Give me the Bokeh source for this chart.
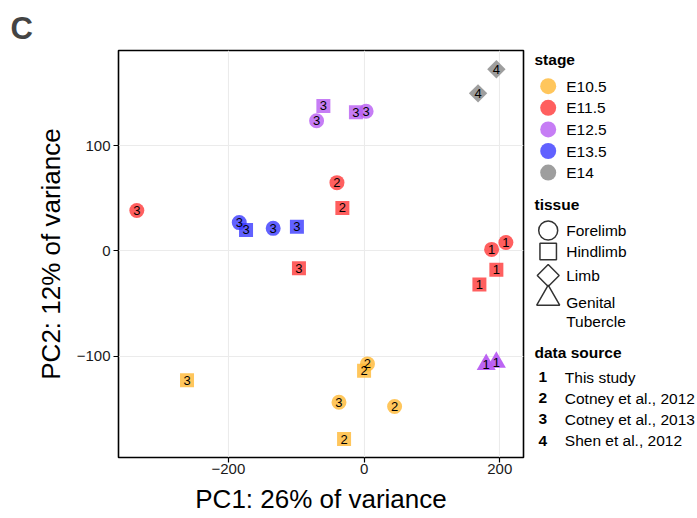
import numpy as np
from bokeh.plotting import figure
from bokeh.models import ColumnDataSource, Range1d, FixedTicker
from bokeh.layouts import row
from bokeh.embed import file_html
from bokeh.resources import INLINE
from bokeh.core.properties import value

# ---------------- data ----------------
stage = ["E14", "E14", "E12.5", "E12.5", "E12.5", "E12.5", "E11.5", "E11.5", "E11.5",
         "E13.5", "E13.5", "E13.5", "E13.5", "E11.5", "E11.5", "E11.5", "E11.5", "E11.5",
         "E12.5", "E12.5", "E10.5", "E10.5", "E10.5", "E10.5", "E10.5", "E10.5"]
tissue = ["Limb", "Limb", "Hindlimb", "Forelimb", "Hindlimb", "Forelimb", "Forelimb", "Hindlimb", "Forelimb",
          "Forelimb", "Hindlimb", "Forelimb", "Hindlimb", "Forelimb", "Forelimb", "Hindlimb", "Hindlimb", "Hindlimb",
          "Genital Tubercle", "Genital Tubercle", "Forelimb", "Hindlimb", "Hindlimb", "Forelimb", "Forelimb", "Hindlimb"]
data_source = ["4", "4", "3", "3", "3", "3", "2", "2", "3",
               "3", "3", "3", "3", "1", "1", "3", "1", "1",
               "1", "1", "2", "2", "3", "3", "2", "2"]
pc1 = [195, 168, -60, -70, -12, 3, -40, -32, -335,
       -184, -174, -134, -99, 188, 209, -96, 195, 170,
       180, 195, 5, 0, -261, -37, 45, -29.5]
pc2 = [173, 150, 138, 124, 132, 133, 65, 41, 38.5,
       27, 20, 21.5, 23, 1.5, 8, -16.5, -18, -32,
       -108, -106, -107.5, -114, -123, -144, -148, -179]

stage_levels = ["E10.5", "E11.5", "E12.5", "E13.5", "E14"]
tissue_levels = ["Forelimb", "Hindlimb", "Limb", "Genital Tubercle"]
source_levels = ["1", "2", "3", "4"]
source_names = ["This study", "Cotney et al., 2012", "Cotney et al., 2013", "Shen et al., 2012"]
x_ticks = [-200, 0, 200]
y_ticks = [-100, 0, 100]
x_tick_labels = ["\u2212200", "0", "200"]
y_tick_labels = ["\u2212100", "0", "100"]
x_title = "PC1: 26% of variance"
y_title = "PC2: 12% of variance"
panel_title = "C"

# ---------------- styles ----------------
FONT = "Liberation Sans"
stage_color = {"E10.5": "#FFB833", "E11.5": "#FF3737", "E12.5": "#B85CF2",
               "E13.5": "#3939FF", "E14": "#868686"}
tissue_marker = {"Forelimb": "circle", "Hindlimb": "square", "Limb": "square",
                 "Genital Tubercle": "triangle"}
tissue_angle = {"Forelimb": 0.0, "Hindlimb": 0.0, "Limb": np.pi / 4, "Genital Tubercle": 0.0}
tissue_size = {"Forelimb": 15, "Hindlimb": 14, "Limb": 13, "Genital Tubercle": 19}
tissue_alpha = {"Forelimb": 0.8, "Hindlimb": 0.8, "Limb": 0.8, "Genital Tubercle": 0.95}
ALPHA = 0.8

src = ColumnDataSource(dict(
    x=pc1, y=pc2, label=data_source,
    color=[stage_color[s] for s in stage],
    marker=[tissue_marker[t] for t in tissue],
    angle=[tissue_angle[t] for t in tissue],
    size=[tissue_size[t] for t in tissue],
    alpha=[tissue_alpha[t] for t in tissue],
))

H = 518
FRAME_TOP, FRAME_BOTTOM, FRAME_LEFT = 50, 457, 118

p = figure(width=525, height=H,
           x_range=Range1d(-362, 235), y_range=Range1d(-196.6, 190.8),
           output_backend="svg", toolbar_location=None,
           min_border_left=FRAME_LEFT, min_border_right=2, min_border_top=FRAME_TOP,
           min_border_bottom=H - FRAME_BOTTOM)
p.background_fill_color = "white"
p.border_fill_color = "white"
p.outline_line_color = "black"
p.outline_line_width = 1.6

# panel letter as the figure title, shifted left to the canvas edge
p.title.text = panel_title
p.title.text_font = FONT
p.title.text_font_size = "31px"
p.title.text_font_style = "bold"
p.title.align = "left"
p.title.offset = -108
p.title.text_line_height = 0.8

p.xaxis.ticker = FixedTicker(ticks=x_ticks)
p.yaxis.ticker = FixedTicker(ticks=y_ticks)
p.xaxis.major_label_overrides = {t: l for t, l in zip(x_ticks, x_tick_labels)}
p.yaxis.major_label_overrides = {t: l for t, l in zip(y_ticks, y_tick_labels)}
p.xaxis.axis_label = x_title
p.yaxis.axis_label = y_title
for ax in (p.xaxis, p.yaxis):
    ax.axis_line_color = None
    ax.major_tick_out = 5
    ax.major_tick_in = 0
    ax.major_tick_line_color = "black"
    ax.major_tick_line_width = 1.2
    ax.minor_tick_line_color = None
    ax.major_label_text_font = FONT
    ax.major_label_text_font_size = "15px"
    ax.major_label_text_color = "#1a1a1a"
    ax.axis_label_text_font = FONT
    ax.axis_label_text_font_size = "26px"
    ax.axis_label_text_font_style = "normal"
    ax.axis_label_text_color = "black"
p.xaxis.major_label_standoff = 1
p.yaxis.major_label_standoff = 3
p.xaxis.axis_label_standoff = 7
p.yaxis.axis_label_standoff = 8
p.grid.grid_line_color = "#EBEBEB"
p.grid.grid_line_width = 1.1

p.scatter("x", "y", marker="marker", size="size", angle="angle", fill_color="color",
          fill_alpha="alpha", line_color=None, source=src)
p.text("x", "y", text="label", text_align="center", text_baseline="middle",
       text_font=value(FONT), text_font_size="13px", text_color="black", source=src)

# ---------------- legend panel (its frame is aligned with the plot frame) ----------------
L = figure(width=172, height=H, x_range=Range1d(0, 172),
           y_range=Range1d(FRAME_BOTTOM, FRAME_TOP),
           output_backend="svg", toolbar_location=None,
           x_axis_location=None, y_axis_location=None,
           min_border_left=0, min_border_right=0, min_border_top=FRAME_TOP,
           min_border_bottom=H - FRAME_BOTTOM)
L.grid.visible = False
L.outline_line_color = None
L.background_fill_color = "white"
L.border_fill_color = "white"

LEG_FS = "15.5px"
title_style = dict(text_font=value(FONT), text_font_size=LEG_FS, text_font_style="bold",
                   text_baseline="middle", text_color="black")
item_style = dict(text_font=value(FONT), text_font_size=LEG_FS,
                  text_baseline="middle", text_color="black")

# stage
L.text(x=[9], y=[59], text=["stage"], **title_style)
sy = [85.7 + 21.6 * i for i in range(len(stage_levels))]
L.scatter(x=[22.7] * len(stage_levels), y=sy, marker="circle", size=16,
          fill_color=[stage_color[s] for s in stage_levels], fill_alpha=ALPHA, line_color=None)
L.text(x=[40.7] * len(stage_levels), y=sy, text=stage_levels, **item_style)

# tissue
L.text(x=[9], y=[204], text=["tissue"], **title_style)
ty = [230, 251, 275, 298]
L.scatter(x=[22.7] * 4, y=ty,
          marker=[tissue_marker[t] for t in tissue_levels],
          angle=[tissue_angle[t] for t in tissue_levels],
          size=[19, 16.5, 15.5, 23],
          fill_color=None, line_color="#333333", line_width=1.5)
L.text(x=[40.7] * 4, y=[230, 251, 275, 301.7], text=["Forelimb", "Hindlimb", "Limb", "Genital"], **item_style)
L.text(x=[40.7], y=[320.5], text=["Tubercle"], **item_style)

# data source
L.text(x=[9], y=[351.7], text=["data source"], **title_style)
dy = [376.7 + 21.1 * i for i in range(len(source_levels))]
L.text(x=[17.3] * 4, y=dy, text=source_levels, text_align="center",
       text_font=value(FONT), text_font_size=LEG_FS, text_font_style="bold",
       text_baseline="middle", text_color="black")
L.text(x=[39.3] * 4, y=dy, text=source_names, **item_style)

layout = row(p, L)
open("out.html", "w").write(file_html(layout, INLINE))
